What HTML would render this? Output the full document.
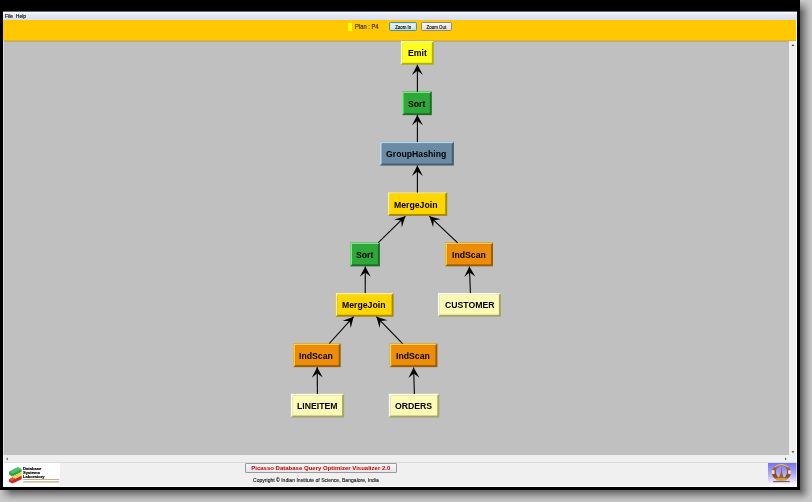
<!DOCTYPE html>
<html>
<head>
<meta charset="utf-8">
<style>
html,body{margin:0;padding:0;}
body{width:812px;height:502px;position:relative;overflow:hidden;background:#c9c9c9;font-family:"Liberation Sans",sans-serif;}
.abs{position:absolute;}
#shR{left:800px;top:0;width:12px;height:490px;background:linear-gradient(to right,#5e5e5e 0%,#8c8c8c 35%,#b4b4b4 70%,#c9c9c9 100%);}
#shB{left:0;top:490px;width:800px;height:12px;background:linear-gradient(to bottom,#606060 0%,#8e8e8e 35%,#b6b6b6 70%,#c9c9c9 100%);}
#shC{left:800px;top:490px;width:12px;height:12px;background:radial-gradient(circle 12px at 0 0,#626262 0%,#8e8e8e 35%,#b5b5b5 70%,#c9c9c9 100%);}
#shTR{left:800px;top:0;width:12px;height:12px;background:linear-gradient(to bottom,rgba(201,201,201,1) 0%,rgba(201,201,201,0) 100%);}
#shBL{left:0;top:490px;width:12px;height:12px;background:linear-gradient(to right,rgba(201,201,201,1) 0%,rgba(201,201,201,0) 100%);}
#frame{left:0;top:0;width:800px;height:490px;background:#000;}
#win{left:3.3px;top:11.6px;width:793.7px;height:475.4px;overflow:hidden;background:linear-gradient(to bottom,#fff 0,#e0e3f3 8.4px,#ffc800 8.4px,#ffc800 29.4px,#c0c0c0 29.4px,#c0c0c0 443.4px,#efefef 443.4px,#efefef 451.9px,#fff 451.9px);}
#in{left:0.7px;top:0.4px;width:793px;height:475px;}
#menu{left:0;top:0;width:793px;height:8px;background:linear-gradient(to bottom,#ffffff 0%,#e6e9f6 30%,#d9ddf0 100%);}
#bar{left:0;top:8px;width:793px;height:21px;background:#ffc800;}
#canvas{left:0;top:29px;width:785px;height:414px;background:#c0c0c0;}
#vs{left:785px;top:29px;width:8px;height:414px;background:#efefef;}
#hs{left:0;top:443px;width:793px;height:8px;background:#efefef;}
#foot{left:0;top:451px;width:793px;height:24px;background:#f0f0f0;}
.t{position:absolute;white-space:nowrap;color:#000;line-height:1;will-change:transform;}
.node{position:absolute;box-sizing:border-box;border-style:solid;border-width:1px 2px 2px 1px;font-weight:bold;font-size:8.65px;text-align:left;color:#000;white-space:nowrap;}
.node span{position:absolute;top:7.3px;line-height:1;}
.emit{background:#ffff1e;border-color:#ffff90 #b4b414 #b4b414 #ffff90;}
.sort{background:#2fa83a;border-color:#5fe06a #1e7327 #1e7327 #5fe06a;}
.gh{background:#6b8ba4;border-color:#9fc0d8 #4a6173 #4a6173 #9fc0d8;}
.mj{background:#ffd600;border-color:#ffee70 #b39600 #b39600 #ffee70;}
.is{background:#ec8c08;border-color:#ffb84a #a26405 #a26405 #ffb84a;}
.tb{background:#fcfcb8;border-color:#ffffe4 #a8a868 #a8a868 #ffffe4;}
.nt{position:absolute;will-change:transform;white-space:nowrap;font-weight:bold;font-size:8.7px;line-height:1;color:#000;}
.btn{position:absolute;box-sizing:border-box;border:1px solid #8a8a8a;border-radius:1.5px;background:linear-gradient(to bottom,#f6f6f6 0%,#ececec 50%,#dddddd 100%);font-size:4.4px;text-align:center;color:#111;}
</style>
</head>
<body>
<div class="abs" id="shR"></div>
<div class="abs" id="shB"></div>
<div class="abs" id="shC"></div>
<div class="abs" id="shTR"></div>
<div class="abs" id="shBL"></div>
<div class="abs" id="frame"></div>
<div class="abs" style="left:3px;top:11px;width:794px;height:1px;background:rgba(250,250,253,0.4);"></div>
<div class="abs" id="win"><div class="abs" id="in">
  <div class="abs" id="menu"></div>
  <div class="t" style="left:0.8px;top:2px;font-size:5px;-webkit-text-stroke:0.12px #000;">File&nbsp; Help</div>
  <div class="abs" id="bar"></div>
  <div class="abs" style="left:343.8px;top:11px;width:4.3px;height:7.6px;background:#ffff00;"></div>
  <div class="t" style="left:350.8px;top:13.2px;font-size:5.8px;color:#2e2208;-webkit-text-stroke:0.12px #2e2208;transform:scaleY(1.2);">Plan : P4</div>
  <div class="btn" style="left:385px;top:10.5px;width:28.4px;height:9px;border-color:#4a8fb8;background:linear-gradient(to bottom,#eef6fa 0%,#dcebf3 50%,#c4dce8 100%);box-shadow:inset 0 0 0 0.6px #b8e4f4;"><span class="t" style="left:0;right:0;top:2.2px;-webkit-text-stroke:0.1px #000;transform:scaleY(1.2);">Zoom In</span></div>
  <div class="btn" style="left:417px;top:10.5px;width:30.7px;height:9px;"><span class="t" style="left:0;right:0;top:2.2px;-webkit-text-stroke:0.1px #000;transform:scaleY(1.2);">Zoom Out</span></div>
  <div class="abs" id="canvas"></div>
  <div class="abs" style="left:0;top:28px;width:793px;height:1px;background:#e4b420;"></div>
  <div class="abs" style="left:0;top:29px;width:785px;height:1px;background:#b8ae80;"></div>
  <div class="abs" id="vs"></div>
  <div class="abs" id="hs"></div>
  <div class="abs" id="foot"></div>
  <div class="abs" style="left:0;top:450.5px;width:793px;height:0.6px;background:#dcdcdc;"></div>
  <div class="abs" style="left:0;top:474px;width:793px;height:1px;background:#fff;"></div>
  <div class="abs" style="left:792px;top:8px;width:1px;height:467px;background:rgba(255,255,255,0.85);"></div>
  <div class="abs" style="left:-1px;top:29px;width:1px;height:446px;background:rgba(255,255,255,0.45);"></div>
  <!-- scrollbar arrows -->
  <svg class="abs" style="left:0;top:0;" width="793" height="475" viewBox="0 0 793 475">
    <path d="M787.6,34 L789,32.2 L790.4,34 Z" fill="#333"/>
    <path d="M787.6,439.2 L789,441 L790.4,439.2 Z" fill="#333"/>
    <path d="M3.6,445.6 L2.2,446.9 L3.6,448.2 Z" fill="#333"/>
    <path d="M781.2,445.6 L782.5,446.9 L781.2,448.2 Z" fill="#333"/>
  </svg>
  <!-- DSL logo -->
  <div class="abs" style="left:0;top:451.5px;width:56px;height:23.5px;background:#fff;"></div>
  <svg class="abs" style="left:0;top:448px;" width="60" height="27" viewBox="4 460 60 27">
    <path d="M8.9,471.8 L17.8,467.2 L21.7,469.3 L21.5,472 L12.4,476.4 L9.1,474.6 Z" fill="#2fa04a"/>
    <path d="M8.9,471.8 L17.8,467.2 L21.7,469.3 L12.6,473.8 Z" fill="#4cc068"/>
    <path d="M9.9,475.2 L12.4,476.4 L21.5,472 L21.7,474.8 L15.4,478.6 L12.2,477.2 Z" fill="#e8d838"/>
    <path d="M8.9,479.6 L12.2,477.4 L15.4,478.8 L21.7,475.4 L21.7,479.3 L12.4,483.6 L9.1,481.8 Z" fill="#d42424"/>
    <path d="M8.9,479.6 L12.2,477.4 L15.4,478.8 L12.3,480.9 Z" fill="#ec4a4a"/>
    <rect x="23.3" y="479" width="35.8" height="0.7" fill="#b88858"/>
    <rect x="23.3" y="481" width="35.8" height="1.7" fill="#b8b080" opacity="0.75"/>
  </svg>
  <div class="t" style="left:19px;top:454.7px;font-size:4.15px;font-weight:bold;line-height:4.1px;-webkit-text-stroke:0.15px #000;">Database<br>Systems<br>Laboratory</div>
  <!-- center footer -->
  <div class="abs" style="left:241.3px;top:451.5px;width:151.5px;height:9.3px;box-sizing:border-box;border:0.8px solid #9a9a9a;border-radius:1px;background:linear-gradient(to bottom,#f8f8f8,#e6e6e6);"></div>
  <div class="t" style="left:241.3px;width:151.5px;text-align:center;top:453.2px;font-size:6px;font-weight:bold;color:#c80000;">Picasso Database Query Optimizer Visualizer 2.0</div>
  <div class="t" style="left:249.5px;top:465.6px;font-size:5.07px;color:#111;-webkit-text-stroke:0.1px #111;">Copyright © Indian Institute of Science, Bangalore, India</div>
  <!-- IISc logo -->
  <div class="abs" style="left:764px;top:451px;width:29px;height:24px;background:#fff;"></div>
  <svg class="abs" style="left:764px;top:451.4px;" width="29" height="22.5" viewBox="768 462.5 29 22.5">
    <defs>
      <linearGradient id="lg" x1="0" y1="0" x2="0" y2="1">
        <stop offset="0" stop-color="#7472f2"/>
        <stop offset="0.45" stop-color="#aaa4f6"/>
        <stop offset="0.85" stop-color="#ece4fc"/>
        <stop offset="1" stop-color="#ffffff"/>
      </linearGradient>
      <linearGradient id="rg" x1="0" y1="0" x2="0" y2="1">
        <stop offset="0" stop-color="#b88050"/>
        <stop offset="0.4" stop-color="#9a5420"/>
        <stop offset="0.75" stop-color="#8a4a18"/>
        <stop offset="0.9" stop-color="#c08830"/>
        <stop offset="1" stop-color="#d8a848"/>
      </linearGradient>
    </defs>
    <rect x="768" y="462.5" width="28.5" height="22.5" fill="url(#lg)"/>
    <path fill-rule="evenodd" fill="url(#rg)" d="M771.8,472.1 a9.6,8.5 0 1,0 19.2,0 a9.6,8.5 0 1,0 -19.2,0 Z M775.9,471.5 a5.6,6.4 0 1,0 11.2,0 a5.6,6.4 0 1,0 -11.2,0 Z"/>
    <path d="M774.5,466.5 Q781.4,461.6 788.3,466.5" fill="none" stroke="#f4e8e0" stroke-width="0.7" opacity="0.9"/>
    <rect x="771.9" y="469.8" width="2.6" height="3.6" fill="#fff" opacity="0.85"/>
    <rect x="788.2" y="469.8" width="2.6" height="3.6" fill="#fff" opacity="0.85"/>
    <path d="M781.4,465.6 L782,472 L784,478 L778.6,478 L780.7,472 Z" fill="#9a6030"/>
    <path d="M775.5,478.2 Q781.3,476.6 787.2,478.2 L786.4,480 L776.3,480 Z" fill="#d0a040"/>
    <rect x="773" y="480.8" width="16.7" height="0.8" fill="#3a2c3c"/>
  </svg>
</div></div>

<!-- tree (page coordinates) -->
<svg class="abs" style="left:0;top:0;" width="812" height="502" viewBox="0 0 812 502">
  <defs>
    <path id="ah" d="M0,0 L-5.5,10.3 L0,6 L5.5,10.3 Z" fill="#000"/>
  </defs>
  <rect x="400.8" y="41.05" width="33.0" height="23.7" fill="#b0b010"/><path d="M400.8,41.05 L433.8,41.05 L431.8,42.65 L402.6,42.65 L402.6,62.75 L400.8,64.75 Z" fill="#ffffb4"/><rect x="402.6" y="42.65" width="29.2" height="20.1" fill="#ffff1e"/>
  <rect x="402.0" y="91.45" width="29.8" height="23.7" fill="#1c6e25"/><path d="M402.0,91.45 L431.8,91.45 L429.8,93.05 L403.8,93.05 L403.8,113.15 L402.0,115.15 Z" fill="#7ce884"/><rect x="403.8" y="93.05" width="26.0" height="20.1" fill="#2fa83a"/>
  <rect x="380.0" y="141.85" width="73.9" height="23.7" fill="#465c6e"/><path d="M380.0,141.85 L453.9,141.85 L451.9,143.45 L381.8,143.45 L381.8,163.55 L380.0,165.55 Z" fill="#b4d8ee"/><rect x="381.8" y="143.45" width="70.1" height="20.1" fill="#6b8ba4"/>
  <rect x="387.9" y="192.25" width="59.3" height="23.7" fill="#a88c00"/><path d="M387.9,192.25 L447.2,192.25 L445.2,193.85 L389.7,193.85 L389.7,213.95 L387.9,215.95 Z" fill="#fff490"/><rect x="389.7" y="193.85" width="55.5" height="20.1" fill="#ffd600"/>
  <rect x="350.2" y="242.65" width="29.7" height="23.7" fill="#1c6e25"/><path d="M350.2,242.65 L379.9,242.65 L377.9,244.25 L352.0,244.25 L352.0,264.35 L350.2,266.35 Z" fill="#7ce884"/><rect x="352.0" y="244.25" width="25.9" height="20.1" fill="#2fa83a"/>
  <rect x="445.3" y="242.65" width="47.7" height="23.7" fill="#9a5e04"/><path d="M445.3,242.65 L493.0,242.65 L491.0,244.25 L447.1,244.25 L447.1,264.35 L445.3,266.35 Z" fill="#ffd040"/><rect x="447.1" y="244.25" width="43.9" height="20.1" fill="#ec8c08"/>
  <rect x="335.6" y="293.05" width="58.0" height="23.7" fill="#a88c00"/><path d="M335.6,293.05 L393.6,293.05 L391.6,294.65 L337.4,294.65 L337.4,314.75 L335.6,316.75 Z" fill="#fff490"/><rect x="337.4" y="294.65" width="54.2" height="20.1" fill="#ffd600"/>
  <rect x="437.9" y="293.05" width="63.0" height="23.7" fill="#a4a466"/><path d="M437.9,293.05 L500.9,293.05 L498.9,294.65 L439.7,294.65 L439.7,314.75 L437.9,316.75 Z" fill="#fffff0"/><rect x="439.7" y="294.65" width="59.2" height="20.1" fill="#fbfbb6"/>
  <rect x="293.3" y="343.45" width="47.4" height="23.7" fill="#9a5e04"/><path d="M293.3,343.45 L340.7,343.45 L338.7,345.05 L295.1,345.05 L295.1,365.15 L293.3,367.15 Z" fill="#ffd040"/><rect x="295.1" y="345.05" width="43.6" height="20.1" fill="#ec8c08"/>
  <rect x="389.8" y="343.45" width="47.6" height="23.7" fill="#9a5e04"/><path d="M389.8,343.45 L437.4,343.45 L435.4,345.05 L391.6,345.05 L391.6,365.15 L389.8,367.15 Z" fill="#ffd040"/><rect x="391.6" y="345.05" width="43.8" height="20.1" fill="#ec8c08"/>
  <rect x="290.8" y="393.85" width="53.3" height="23.7" fill="#a4a466"/><path d="M290.8,393.85 L344.1,393.85 L342.1,395.45 L292.6,395.45 L292.6,415.55 L290.8,417.55 Z" fill="#fffff0"/><rect x="292.6" y="395.45" width="49.5" height="20.1" fill="#fbfbb6"/>
  <rect x="388.8" y="393.85" width="50.5" height="23.7" fill="#a4a466"/><path d="M388.8,393.85 L439.3,393.85 L437.3,395.45 L390.6,395.45 L390.6,415.55 L388.8,417.55 Z" fill="#fffff0"/><rect x="390.6" y="395.45" width="46.7" height="20.1" fill="#fbfbb6"/>
  <g stroke="#000" stroke-width="1.1" fill="none">
    <line x1="417.4" y1="91.7" x2="417.4" y2="64.8"/>
    <line x1="417.4" y1="142.1" x2="417.4" y2="114.9"/>
    <line x1="417.4" y1="192.4" x2="417.4" y2="165.6"/>
    <line x1="378.3" y1="242.6" x2="405.4" y2="216.2"/>
    <line x1="457.7" y1="242.9" x2="429.4" y2="216.2"/>
    <line x1="365.2" y1="293.1" x2="365.3" y2="266.5"/>
    <line x1="470.4" y1="293.0" x2="469.4" y2="266.5"/>
    <line x1="329.3" y1="343.5" x2="353.6" y2="316.7"/>
    <line x1="402.6" y1="343.7" x2="376.4" y2="316.7"/>
    <line x1="317.4" y1="393.9" x2="317.2" y2="367.3"/>
    <line x1="414.4" y1="393.9" x2="413.6" y2="367.5"/>
  </g>
  <use href="#ah" transform="translate(417.4,64.8) rotate(0.0)"/>
  <use href="#ah" transform="translate(417.4,114.9) rotate(0.0)"/>
  <use href="#ah" transform="translate(417.4,165.6) rotate(0.0)"/>
  <use href="#ah" transform="translate(405.4,216.2) rotate(45.7)"/>
  <use href="#ah" transform="translate(429.4,216.2) rotate(-46.7)"/>
  <use href="#ah" transform="translate(365.3,266.5) rotate(0.2)"/>
  <use href="#ah" transform="translate(469.4,266.5) rotate(-2.2)"/>
  <use href="#ah" transform="translate(353.6,316.7) rotate(42.2)"/>
  <use href="#ah" transform="translate(376.4,316.7) rotate(-44.1)"/>
  <use href="#ah" transform="translate(317.2,367.3) rotate(-0.4)"/>
  <use href="#ah" transform="translate(413.6,367.5) rotate(-1.7)"/>
</svg>
<div class="nt" style="left:407.7px;top:49.15px;">Emit</div>
<div class="nt" style="left:408.1px;top:100.15px;">Sort</div>
<div class="nt" style="left:386.1px;top:150.15px;">GroupHashing</div>
<div class="nt" style="left:394.2px;top:201.15px;">MergeJoin</div>
<div class="nt" style="left:356.0px;top:251.15px;">Sort</div>
<div class="nt" style="left:451.9px;top:251.15px;">IndScan</div>
<div class="nt" style="left:342.1px;top:301.15px;">MergeJoin</div>
<div class="nt" style="left:444.7px;top:301.15px;">CUSTOMER</div>
<div class="nt" style="left:299.1px;top:352.15px;">IndScan</div>
<div class="nt" style="left:395.6px;top:352.15px;">IndScan</div>
<div class="nt" style="left:297.1px;top:402.15px;">LINEITEM</div>
<div class="nt" style="left:395.1px;top:402.15px;">ORDERS</div>

</body>
</html>
